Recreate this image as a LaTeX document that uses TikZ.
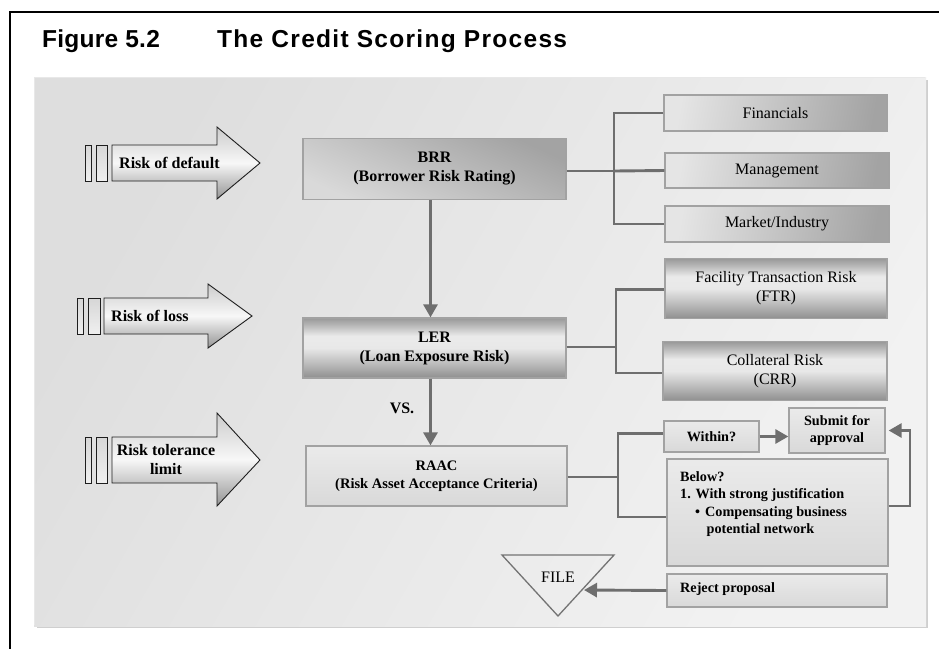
\documentclass[tikz,border=0pt]{standalone}
\usepackage{fontspec}
\setmainfont{Liberation Serif}
\newfontfamily\figfont{Liberation Sans}[LetterSpace=1]
\newfontfamily\titlefont{Liberation Sans}[LetterSpace=5.3]
\usetikzlibrary{arrows.meta}
\definecolor{connc}{HTML}{6E6E6E}
\definecolor{edgec}{HTML}{A2A2A2}
\definecolor{outl}{HTML}{1E1E1E}
\pgfdeclareverticalshading{cylshade}{100bp}{color(0bp)=(black!44); color(25bp)=(black!44); color(36bp)=(black!28); color(50bp)=(black!9); color(60bp)=(black!8); color(70bp)=(black!30); color(75bp)=(black!40); color(100bp)=(black!40)}
\newcommand\regsz{\fontsize{16}{19}\selectfont}
\newcommand\bldsz{\fontsize{16}{19}\selectfont\bfseries}
\newcommand\smbld{\fontsize{14.2}{17.5}\selectfont\bfseries}
\begin{document}
\begin{tikzpicture}[x=1pt,y=-1pt,
  conn/.style={draw=connc, line width=2.9pt},
  arrowed/.style={-{Triangle[length=13pt,width=14pt]}},
  boxbase/.style={draw=edgec, line width=1.3pt, inner sep=0pt, align=center},
  darkbox/.style={boxbase, top color=black!36, bottom color=black!15, shading angle=-25},
  cylbox/.style={boxbase, shading=cylshade},
  sidebox/.style={boxbase, left color=black!10, right color=black!36, shading angle=80},
  lightbox/.style={boxbase, top color=black!8, bottom color=black!15},
  bigarrow/.style={draw=outl, line width=0.9pt, top color=black!20, bottom color=black!42, middle color=black!3},
  barfill/.style={draw=outl, line width=0.9pt, top color=black!16, bottom color=black!6},
  lbl/.style={inner sep=0pt, font=\bldsz}
]
\useasboundingbox (0,0) rectangle (939,649);
\fill[white] (0,0) rectangle (939,649);
% frame
\draw[black, line width=1.2pt] (939,12) -- (10,12) -- (10,649);
% title
\node[anchor=base west, inner sep=0pt, font=\figfont\fontsize{24.5}{28}\selectfont\bfseries] (fig) at (42,47) {Figure 5.2};
\node[anchor=base west, inner sep=0pt, font=\titlefont\fontsize{24.5}{28}\selectfont\bfseries] (ttl) at (217,47) {The Credit Scoring Process};
% panel
\fill[black!19] (37,80) rectangle (928,628);
\shade[left color=black!13, right color=black!5, shading angle=60] (34,77) rectangle (926,626);
\draw[black!9, line width=1.2pt] (34.6,625.4) -- (34.6,77.6) -- (925.4,77.6);

% big arrows
\draw[barfill] (85,145) rectangle (91,181);
\draw[barfill] (96,145) rectangle (107,181);
\draw[bigarrow] (112,145) -- (217,145) -- (217,127) -- (260,163) -- (217,199) -- (217,181) -- (112,181) -- cycle;
\node[lbl, anchor=west] (rd) at (119,163) {Risk of default};

\draw[barfill] (77,298) rectangle (83,334);
\draw[barfill] (88,298) rectangle (100,334);
\draw[bigarrow] (104,298) -- (208,298) -- (208,284) -- (252,316) -- (208,348) -- (208,334) -- (104,334) -- cycle;
\node[lbl, anchor=west] (rl) at (111,316) {Risk of loss};

\draw[barfill] (85,437) rectangle (91,483);
\draw[barfill] (96,437) rectangle (107,483);
\draw[bigarrow] (112,437) -- (217,437) -- (217,413) -- (260,460) -- (217,506) -- (217,483) -- (112,483) -- cycle;
\node[lbl, align=center] (rt) at (166,460) {Risk tolerance\\limit};

% central boxes
\node[darkbox, minimum width=263pt, minimum height=61pt, font=\bldsz] (BRR) at (434.5,169) {BRR\\(Borrower Risk Rating)};
\node[cylbox, minimum width=263pt, minimum height=60pt, font=\bldsz] (LER) at (434.5,348) {LER\\(Loan Exposure Risk)};
\node[lightbox, minimum width=261pt, minimum height=60pt, font=\fontsize{14.5}{17.5}\selectfont\bfseries] (RAAC) at (436.5,476) {RAAC\\(Risk Asset Acceptance Criteria)};

% right boxes
\node[sidebox, minimum width=223pt, minimum height=36pt, font=\regsz] (Fin) at (775.5,113) {Financials};
\node[sidebox, minimum width=224pt, minimum height=35pt, font=\regsz] (Man) at (777,170.5) {Management};
\node[sidebox, minimum width=224pt, minimum height=36pt, font=\regsz] (Mkt) at (777,224) {Market/Industry};
\node[cylbox, minimum width=222pt, minimum height=60pt, font=\regsz] (FTR) at (776,288.5) {Facility Transaction Risk\\(FTR)};
\node[cylbox, minimum width=224pt, minimum height=59pt, font=\regsz] (CRR) at (775,371) {Collateral Risk\\(CRR)};

% decision boxes
\node[lightbox, minimum width=95pt, minimum height=31pt, font=\smbld] (Within) at (711.5,436.5) {Within?};
\node[lightbox, minimum width=96pt, minimum height=45pt, font=\smbld] (Submit) at (837,430.5) {Submit for\\approval};
\node[lightbox, minimum width=221pt, minimum height=107pt] (Below) at (777.5,512.5) {};
\node[anchor=north west, inner sep=0pt, align=left, font=\smbld] (BelowTxt) at (680,471) {Below?\\1. With strong justification\\\hspace*{15pt}\textbullet\hspace{5pt}Compensating business\\\hspace*{26.5pt}potential network};
\node[lightbox, minimum width=220pt, minimum height=33pt] (Reject) at (777,590.5) {};
\node[anchor=west, inner sep=0pt, font=\smbld] (RejTxt) at (680,589.5) {Reject proposal};

% FILE triangle
\draw[draw=black!55, line width=1.3pt] (502,555) -- (614,555) -- (558,616) -- cycle;
\node[inner sep=0pt, font=\regsz] (FILE) at (558,577) {FILE};
\coordinate (fileR) at (584,590);

% connectors
\coordinate (j1) at (614,171);
\draw[conn] (BRR.east |- j1) -- (j1);
\draw[conn] (Fin.west) -| (j1) |- (Mkt.west);
\draw[conn] (j1) -- (Man.west);

\coordinate (j2) at (616,347);
\draw[conn] (LER.east |- j2) -- (j2);
\draw[conn] ([yshift=-1pt]FTR.west) -| (j2) |- ([yshift=-2pt]CRR.west);

\coordinate (j3) at (618,477);
\draw[conn] (RAAC.east |- j3) -- (j3);
\draw[conn] ([yshift=3pt]Within.west) -| (j3) |- ([yshift=-4.5pt]Below.west);

\draw[conn, arrowed] ([xshift=-4pt]BRR.south) -- ([xshift=-4pt]BRR.south |- LER.north);
\draw[conn, arrowed] ([xshift=-4pt]LER.south) -- ([xshift=-4pt]LER.south |- RAAC.north);
\node[lbl] (vs) at (402,408) {VS.};

\draw[conn, arrowed] (Within.east) -- (Within.east -| Submit.west);
\coordinate (k) at (910,0);
\draw[conn, arrowed] ([yshift=6.5pt]Below.east) -| (k |- Submit.east) -- ([xshift=3pt]Submit.east);
\draw[conn, arrowed] (Reject.west) -- (fileR);
\end{tikzpicture}
\end{document}
